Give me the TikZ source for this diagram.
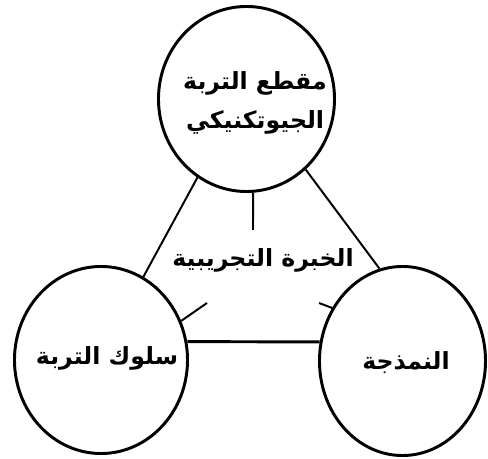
\documentclass[tikz,border=0pt]{standalone}
\usepackage{fontspec}
\newfontfamily\arabicfont[Script=Arabic]{DejaVu Sans}
\TeXXeTstate=1
\usetikzlibrary{shapes.geometric}

\begin{document}
\begin{tikzpicture}[x = 0.025cm, y = -0.025cm, line width = 1.4pt,
                        ring/.style = {ellipse, draw, line width = 2.1pt, inner sep = 0pt},
                        word/.style = {font = \arabicfont\bfseries\fontsize{16.8}{27.7}\selectfont, align = center, inner sep = 0pt}]
      \useasboundingbox (0, 0) rectangle (488, 459);
      \node [ring, minimum width = 4.4cm, minimum height = 4.625cm] (profile) at (246.5, 99){};
      \node [ring, minimum width = 4.325cm, minimum height = 4.675cm] (behav) at (101, 360){};
      \node [ring, minimum width = 4.15cm, minimum height = 4.725cm] (model) at (402.5, 361){};
      \node [word] (profiletxt) at (255, 103) {\beginR مقطع التربة\endR\\\beginR الجيوتكنيكي\endR};
      \node [word] (behavtxt) at (107, 358) {\beginR سلوك التربة\endR};
      \node [word] (modeltxt) at (406, 363) {\beginR النمذجة\endR};
      \node [word] (exptxt) at (263, 260) {\beginR الخبرة التجريبية\endR};
      \coordinate (c1) at (253, 230);
      \coordinate (c2) at (207, 303);
      \coordinate (c3) at (319, 303);
      \draw (profile.238) -- (behav.63);
      \draw (profile.310) -- (model.104);
      \draw (profile.-86) -- (c1);
      \draw (behav.26) -- (c2);
      \draw (model.143) -- (c3);
      \draw [line width = 2.1pt] (behav.12) -- (model.167);
    \end{tikzpicture}
\end{document}
